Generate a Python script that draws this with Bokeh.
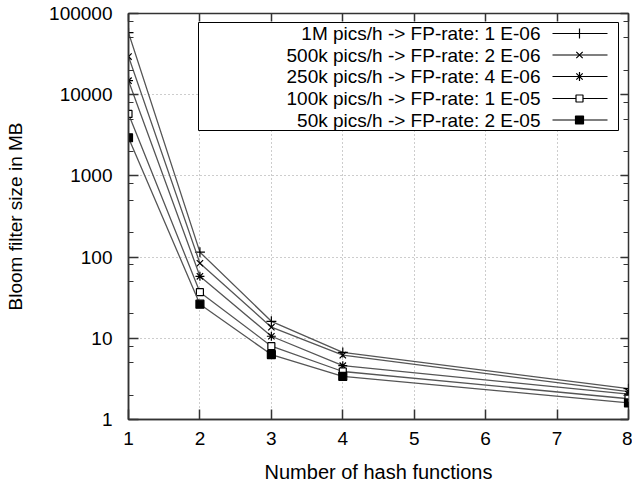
from bokeh.plotting import figure
from bokeh.models import (Range1d, LinearScale, FixedTicker, LinearAxis, LogAxis,
                          CustomJSTickFormatter)
from bokeh.embed import file_html
from bokeh.resources import INLINE
from bokeh.core.properties import value

# ---- data ----
hash_functions = [1, 2, 3, 4, 8]
size_1m = [58000, 115, 16.2, 6.7, 2.4]
size_500k = [29500, 84, 13.7, 6.2, 2.2]
size_250k = [14900, 58, 10.6, 4.6, 2.05]
size_100k = [5800, 37, 8.0, 3.9, 1.8]
size_50k = [2950, 26.3, 6.3, 3.4, 1.6]
series_labels = [
    "1M pics/h -> FP-rate: 1 E-06",
    "500k pics/h -> FP-rate: 2 E-06",
    "250k pics/h -> FP-rate: 4 E-06",
    "100k pics/h -> FP-rate: 1 E-05",
    "50k pics/h -> FP-rate: 2 E-05",
]
x_ticks = [1, 2, 3, 4, 5, 6, 7, 8]
y_ticks = [1, 10, 100, 1000, 10000, 100000]
y_tick_labels = ["1", "10", "100", "1000", "10000", "100000"]
y_minor = [m * d for d in [1, 10, 100, 1000, 10000] for m in (2, 5, 8)]

series = [size_1m, size_500k, size_250k, size_100k, size_50k]
markers = ["cross", "x", "asterisk", "square", "square"]
marker_fill = ["black", "black", "black", "white", "black"]
marker_size = [10, 9, 9, 7, 8]

FONT = "Liberation Sans"
AX = "#333333"
LINE = "#555555"

p = figure(width=632, height=488, x_range=Range1d(1, 8), y_range=Range1d(1, 100000),
           y_axis_type="log", output_backend="svg", toolbar_location=None,
           min_border_left=128, min_border_right=4, min_border_top=13, min_border_bottom=69)
p.background_fill_color = "white"
p.border_fill_color = "white"
p.outline_line_color = AX
p.outline_line_width = 1.5

# pixel-like coordinate system for the key box
p.extra_x_ranges = {"px": Range1d(128, 628)}
p.extra_x_scales = {"px": LinearScale()}
p.extra_y_ranges = {"px": Range1d(419, 13)}
p.extra_y_scales = {"px": LinearScale()}

# axes
xt = FixedTicker(ticks=x_ticks)
yt = FixedTicker(ticks=y_ticks, minor_ticks=y_minor)
p.xaxis.ticker = xt
p.yaxis.ticker = yt
p.yaxis.major_label_overrides = {t: l for t, l in zip(y_ticks, y_tick_labels)}
for ax in (p.xaxis[0], p.yaxis[0]):
    ax.axis_line_color = AX
    ax.axis_line_width = 1.5
    ax.major_tick_line_color = AX
    ax.minor_tick_line_color = AX
    ax.major_tick_line_width = 1.5
    ax.major_tick_in = 10
    ax.major_tick_out = 0
    ax.minor_tick_out = 0
    ax.major_label_text_font = FONT
    ax.major_label_text_font_size = "19px"
    ax.major_label_text_color = "black"
    ax.axis_label_text_font = FONT
    ax.axis_label_text_font_style = "normal"
    ax.axis_label_text_color = "black"
p.xaxis.axis_label_text_font_size = "20px"
p.yaxis.axis_label_text_font_size = "19px"
p.xaxis.minor_tick_in = 0
p.yaxis.minor_tick_in = 5
p.xaxis.axis_label = "Number of hash functions"
p.yaxis.axis_label = "Bloom filter size in MB"
p.xaxis.major_label_standoff = 12
p.xaxis.axis_label_standoff = 13
p.yaxis.major_label_standoff = 16
p.yaxis.axis_label_standoff = 20

blank = CustomJSTickFormatter(code="return ''")
top = LinearAxis(ticker=xt, formatter=blank, major_tick_in=8, major_tick_out=0,
                 minor_tick_in=0, minor_tick_out=0, major_label_standoff=0,
                 major_label_text_font_size="1px", axis_line_color=None,
                 major_tick_line_color=AX, major_tick_line_width=1.5)
right = LogAxis(ticker=yt, formatter=blank, major_tick_in=8, major_tick_out=0,
                minor_tick_in=5, minor_tick_out=0, major_label_standoff=0,
                major_label_text_font_size="1px", axis_line_color=None,
                major_tick_line_color=AX, minor_tick_line_color=AX,
                major_tick_line_width=1.5)
p.add_layout(top, "above")
p.add_layout(right, "right")

# grid
p.xgrid.ticker = FixedTicker(ticks=x_ticks[1:-1])
p.ygrid.ticker = FixedTicker(ticks=y_ticks[1:-1])
for g in (p.xgrid[0], p.ygrid[0]):
    g.grid_line_color = "#9a9a9a"
    g.grid_line_dash = "1 3"
    g.grid_line_width = 1

# series
for ys, m, fc, ms in zip(series, markers, marker_fill, marker_size):
    p.line(hash_functions, ys, line_color=LINE, line_width=1.3)
    p.scatter(hash_functions, ys, marker=m, size=ms, line_color="black",
              fill_color=fc, line_width=1.2)

# key (gnuplot style: text right aligned, sample on the right)
p.quad(left=[198], right=[618], top=[22], bottom=[130], fill_color="white",
       line_color="black", line_width=1, x_range_name="px", y_range_name="px")
row_y = [33, 54.5, 76, 98, 119.5]
for yy, lab, m, fc, ms in zip(row_y, series_labels, markers, marker_fill, marker_size):
    p.text([540], [yy], text=[lab], text_align="right", text_baseline="middle",
           text_font=value(FONT), text_font_size="19px", text_color="black",
           x_range_name="px", y_range_name="px")
    p.segment([552], [yy], [607], [yy], line_color="black", line_width=1.2,
              x_range_name="px", y_range_name="px")
    p.scatter([579], [yy], marker=m, size=ms, line_color="black", fill_color=fc,
              line_width=1.2, x_range_name="px", y_range_name="px")

open("out.html", "w").write(file_html(p, INLINE))
